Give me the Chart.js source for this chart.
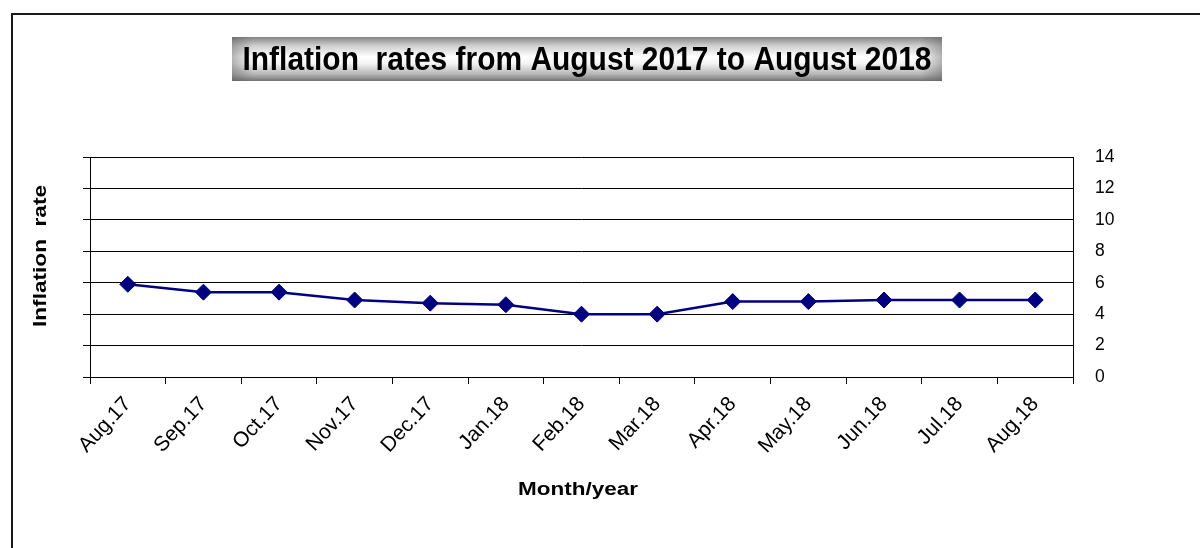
<!DOCTYPE html>
<html>
<head>
<meta charset="utf-8">
<script src="https://cdn.jsdelivr.net/npm/chart.js@4.4.1/dist/chart.umd.min.js"></script>
<style>
  html, body { margin: 0; padding: 0; background: #fff; }
  #wrap { position: relative; width: 1200px; height: 548px; }
  canvas { display: block; }
</style>
</head>
<body>
<div id="wrap"><canvas id="c" width="1200" height="548"></canvas></div>
<script>
const categories = ['Aug.17', 'Sep.17', 'Oct.17', 'Nov.17', 'Dec.17', 'Jan.18', 'Feb.18', 'Mar.18', 'Apr.18', 'May.18', 'Jun.18', 'Jul.18', 'Aug.18'];
const inflationRates = [5.9, 5.4, 5.4, 4.9, 4.7, 4.6, 4.0, 4.0, 4.8, 4.8, 4.9, 4.9, 4.9];
const yMin = 0;
const yMax = 14;
const yStep = 2;
const chartTitle = 'Inflation  rates from August 2017 to August 2018';
const xTitle = 'Month/year';
const yTitle = 'Inflation  rate';

const FONT = "'Liberation Sans', Arial, sans-serif";

const decorPlugin = {
  id: 'decor',
  beforeDraw(chart) {
    const ctx = chart.ctx;
    ctx.save();
    ctx.fillStyle = '#fff';
    ctx.fillRect(0, 0, chart.width, chart.height);
    // page frame (left & top)
    ctx.strokeStyle = '#1a1a1a';
    ctx.lineWidth = 2;
    ctx.beginPath();
    ctx.moveTo(12, chart.height);
    ctx.lineTo(12, 14);
    ctx.lineTo(chart.width, 14);
    ctx.stroke();
    ctx.restore();
  },
  afterDraw(chart) {
    const ctx = chart.ctx;
    ctx.save();
    // title box with metallic gradient
    const bx = 232, by = 37, bw = 710, bh = 44;
    const g = ctx.createLinearGradient(0, by, 0, by + bh);
    g.addColorStop(0, '#858585');
    g.addColorStop(0.2, '#cfcfcf');
    g.addColorStop(0.45, '#ffffff');
    g.addColorStop(0.6, '#f4f4f4');
    g.addColorStop(0.85, '#b4b4b4');
    g.addColorStop(1, '#747474');
    ctx.fillStyle = g;
    ctx.fillRect(bx, by, bw, bh);
    const gh = ctx.createLinearGradient(bx, 0, bx + bw, 0);
    gh.addColorStop(0, 'rgba(90,90,90,0.45)');
    gh.addColorStop(0.03, 'rgba(90,90,90,0)');
    gh.addColorStop(0.97, 'rgba(90,90,90,0)');
    gh.addColorStop(1, 'rgba(90,90,90,0.45)');
    ctx.fillStyle = gh;
    ctx.fillRect(bx, by, bw, bh);
    ctx.fillStyle = '#000';
    ctx.font = 'bold 30px ' + FONT;
    ctx.textAlign = 'center';
    ctx.textBaseline = 'alphabetic';
    let w = ctx.measureText(chartTitle).width;
    ctx.save();
    ctx.translate(bx + bw / 2, 70);
    ctx.scale(689 / w, 1.08);
    ctx.fillText(chartTitle, 0, 0);
    ctx.restore();

    // x axis title (horizontally stretched like the original)
    ctx.font = 'bold 17.5px ' + FONT;
    w = ctx.measureText(xTitle).width;
    ctx.save();
    ctx.translate(578, 494.5);
    ctx.scale(120 / w, 1);
    ctx.textAlign = 'center';
    ctx.fillText(xTitle, 0, 0);
    ctx.restore();

    // y axis title
    w = ctx.measureText(yTitle).width;
    ctx.save();
    ctx.translate(45.5, 256);
    ctx.rotate(-Math.PI / 2);
    ctx.scale(142 / w, 1);
    ctx.textAlign = 'center';
    ctx.fillText(yTitle, 0, 0);
    ctx.restore();
    ctx.restore();
  }
};

new Chart(document.getElementById('c'), {
  type: 'line',
  data: {
    labels: categories,
    datasets: [{
      data: inflationRates,
      borderColor: '#000080',
      backgroundColor: '#000080',
      borderWidth: 2.5,
      tension: 0,
      pointStyle: 'rectRot',
      pointRadius: 8,
      pointHoverRadius: 8,
      pointBorderWidth: 1,
      pointBackgroundColor: '#000080',
      pointBorderColor: '#000080',
      fill: false
    }]
  },
  options: {
    responsive: false,
    devicePixelRatio: 1,
    animation: false,
    events: [],
    layout: { padding: { top: 157, left: 0, right: 0, bottom: 0 } },
    plugins: {
      legend: { display: false },
      title: { display: false },
      tooltip: { enabled: false }
    },
    scales: {
      x: {
        type: 'category',
        offset: true,
        grid: { offset: true, drawOnChartArea: false, drawTicks: true, tickLength: 7, color: '#000', lineWidth: 1 },
        border: { display: true, color: '#000', width: 1 },
        ticks: {
          autoSkip: false,
          minRotation: 47,
          maxRotation: 47,
          padding: 8,
          color: '#000',
          font: { family: FONT, size: 21 }
        },
        afterFit(s) { s.height = 548 - 377; }
      },
      y: {
        position: 'right',
        min: yMin,
        max: yMax,
        ticks: { stepSize: yStep, padding: 22, color: '#000', font: { family: FONT, size: 17.5 } },
        grid: { color: '#000', lineWidth: 1, drawTicks: false },
        border: { display: true, color: '#000', width: 1 },
        afterFit(s) { s.width = 1200 - 1073; }
      },
      yLeft: {
        position: 'left',
        min: yMin,
        max: yMax,
        ticks: { stepSize: yStep, display: false },
        grid: { drawOnChartArea: false, drawTicks: true, tickLength: 7, color: '#000', lineWidth: 1 },
        border: { display: true, color: '#000', width: 1 },
        afterFit(s) { s.width = 90; }
      }
    }
  },
  plugins: [decorPlugin]
});
</script>
</body>
</html>
